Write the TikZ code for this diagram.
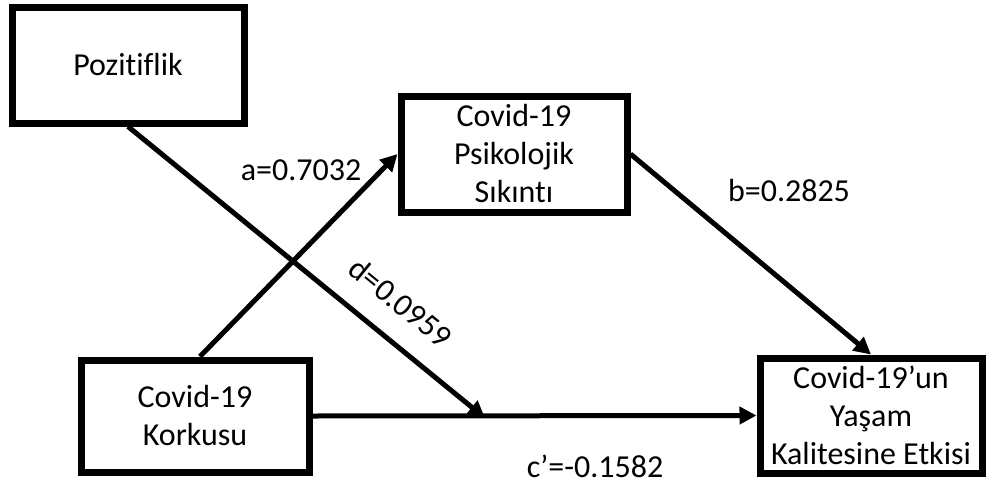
\documentclass[tikz,border=0pt]{standalone}
\usepackage{fontspec}
\setmainfont{Carlito}[Ligatures={NoCommon,NoRequired,NoContextual}]
\usetikzlibrary{arrows.meta}

\tikzstyle {varbox} = [draw, line width=3.5pt, align=center, inner sep=0pt, font=\fontsize{16}{19}\selectfont]
\tikzstyle {coef} = [font=\fontsize{16}{19}\selectfont]
\tikzstyle {link} = [line width=2.5pt, -{Triangle[length=8.5pt, width=8.5pt]}]

\begin{document}
\begin{tikzpicture}[x=0.5pt, y=-0.5pt]
            \useasboundingbox (0,0) rectangle (987,483);
            % variables
            \node [varbox, minimum width=116pt, minimum height=58pt] (poz) at (128,65) {Pozitiflik};
            \node [varbox, minimum width=113pt, minimum height=58pt] (psi) at (514,154) {Covid-19\\Psikolojik\\Sıkıntı};
            \node [varbox, minimum width=114pt, minimum height=56pt] (kor) at (195,416) {Covid-19\\Korkusu};
            \node [varbox, minimum width=111pt, minimum height=57.5pt] (etk) at (871,415.5) {Covid-19’un\\Yaşam\\Kalitesine Etkisi};
            \coordinate (meet) at (485,418);
            % paths
            \draw [link] ([xshift=2.5pt]kor.north) -- (psi.west);
            \draw [link] (psi.east) -- (etk.north);
            \draw [link] (kor.east) -- (etk.west);
            \draw [link] (poz.south) -- node [coef, sloped, above=8pt, pos=0.70] {d=0.0959} (meet);
            % coefficients
            \node [coef] (acoef) at (301,170) {a=0.7032};
            \node [coef] (bcoef) at (789,191) {b=0.2825};
            \node [coef] (ccoef) at (595,466) {c’=-0.1582};
        \end{tikzpicture}
\end{document}
